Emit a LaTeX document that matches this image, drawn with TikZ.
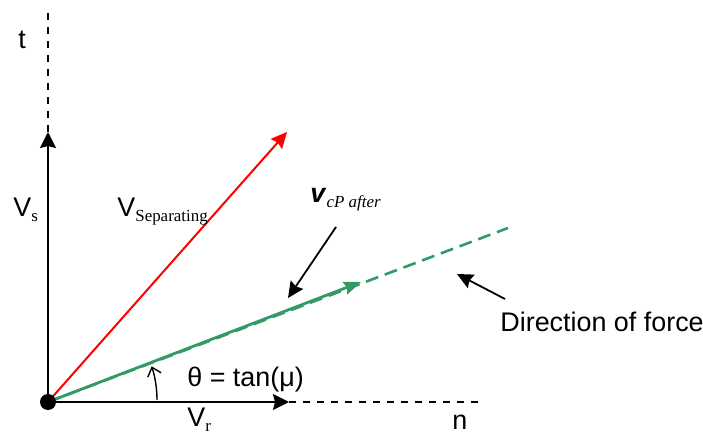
\documentclass[tikz,border=0pt]{standalone}
\usepackage{fontspec}
\setmainfont{Liberation Sans}
\newfontfamily\subserif{Liberation Serif}
\usetikzlibrary{arrows.meta,positioning}
\definecolor{fgreen}{HTML}{339966}
\definecolor{fred}{HTML}{FF0000}
\newcommand{\lowtxt}[1]{\raisebox{-0.35ex}{\subserif\fontsize{8.5}{9}\selectfont #1}}
\newcommand{\lowital}[1]{\raisebox{-0.35ex}{\subserif\itshape\fontsize{8.5}{9}\selectfont #1}}
\tikzset{
  axis/.style    ={line width=1bp,draw=black,-{Stealth[length=8bp,width=8bp,inset=1bp]}},
  axisext/.style ={line width=1bp,draw=black,dash pattern=on 3.5bp off 3.5bp},
  vsep/.style    ={line width=1bp,draw=fred,-{Stealth[length=8bp,width=7.5bp,inset=1bp]}},
  vcp/.style     ={line width=1.4bp,draw=fgreen,-{Stealth[length=8.5bp,width=6.5bp,inset=1bp]}},
  forcedir/.style={line width=1.3bp,draw=fgreen,dash pattern=on 6.5bp off 3.5bp},
  pointer/.style ={line width=0.9bp,draw=black,-{Stealth[length=8bp,width=7.5bp,inset=1bp]}},
  anglearr/.style={line width=0.7bp,draw=black,-{Straight Barb[length=4bp,width=7bp]}},
  lbl/.style     ={anchor=base west,inner sep=0pt,font=\fontsize{13.5}{15}\selectfont}
}
\begin{document}
\begin{tikzpicture}[x=0.5bp,y=-0.5bp]
  \useasboundingbox (0,0) rectangle (703,436);
  % axes
  \coordinate (O) at (48,402);
  \coordinate (tTip) at (48,132);
  \coordinate (tTop) at (48,10);
  \coordinate (nTip) at (289,402);
  \coordinate (nEnd) at (482,402);
  \draw[axisext] (tTip) -- (tTop);
  \draw[axisext] (nTip) -- (nEnd);
  \draw[axis] (O) -- (tTip);
  \draw[axis] (O) -- (nTip);
  % vectors
  \coordinate (sepTip) at (287,132);
  \coordinate (cpTip) at (361,282);
  \coordinate (forceEnd) at (508,228);
  \draw[forcedir] (O) -- (forceEnd);
  \draw[vcp] (O) -- (cpTip);
  \draw[vsep] (O) -- (sepTip);
  \fill (O) circle[radius=8];
  % angle
  \coordinate (arcStart) at (157,400);
  \draw[anglearr] (arcStart) arc[start angle=0,end angle=-18,radius=109];
  % labels
  \node[lbl] (tLbl) at (18,49) {t};
  \node[lbl] (nLbl) at (452,430) {n};
  \node[lbl] (vsLbl) at (13,217) {V\lowtxt{s}};
  \node[lbl] (vsepLbl) at (117,217) {V\lowtxt{Separating}};
  \node[lbl] (vrLbl) at (187,427) {V\lowtxt{r}};
  \node[lbl] (thetaLbl) at (187,387) {θ = tan(μ)};
  \node[lbl] (vcpLbl) at (310,203) {\textbf{\textit{v}}\lowital{cP after}};
  \node[lbl] (forceLbl) at (500,332) {Direction of force};
  % pointers
  \coordinate (cpFrom) at (336,227);
  \coordinate (cpTo) at (288,298);
  \coordinate (forceFrom) at (505,299);
  \coordinate (forceTo) at (457,274);
  \draw[pointer] (cpFrom) -- (cpTo);
  \draw[pointer] (forceFrom) -- (forceTo);
\end{tikzpicture}
\end{document}
